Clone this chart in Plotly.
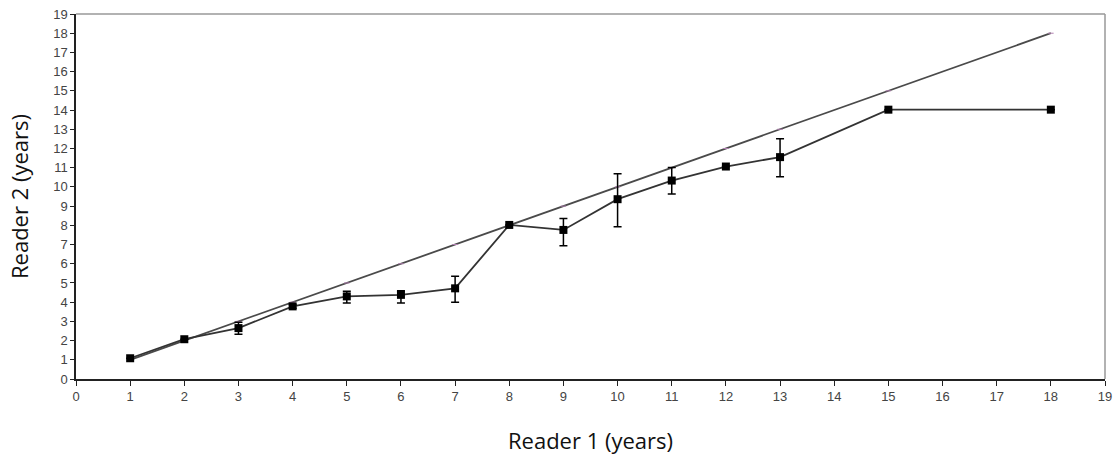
import plotly.graph_objects as go

reader1 = [1, 2, 3, 4, 5, 6, 7, 8, 9, 10, 11, 12, 13, 15, 18]
reader2_mean = [1.08, 2.07, 2.65, 3.78, 4.3, 4.38, 4.72, 8.02, 7.76, 9.36, 10.33, 11.06, 11.55, 14.02, 14.02]
err_plus = [0.0, 0.0, 0.3, 0.1, 0.27, 0.22, 0.63, 0.0, 0.6, 1.33, 0.68, 0.0, 0.95, 0.0, 0.0]
err_minus = [0.0, 0.0, 0.32, 0.1, 0.35, 0.43, 0.72, 0.0, 0.83, 1.43, 0.7, 0.0, 1.02, 0.0, 0.0]
identity_y = [1, 2, 3, 4, 5, 6, 7, 8, 9, 10, 11, 12, 13, 15, 18]

x_ticks = list(range(0, 20))
y_ticks = list(range(0, 20))

fig = go.Figure()

fig.add_trace(go.Scatter(
    x=reader1, y=identity_y, mode="lines+markers",
    line=dict(color="#4a4a4a", width=1.8),
    marker=dict(symbol="line-ew", size=4, color="#b080b0", line=dict(color="#b080b0", width=1)),
    showlegend=False, hoverinfo="skip",
))

fig.add_trace(go.Scatter(
    x=reader1, y=reader2_mean, mode="lines+markers",
    line=dict(color="#333333", width=1.8),
    marker=dict(symbol="square", size=8, color="black"),
    error_y=dict(type="data", symmetric=False, array=err_plus, arrayminus=err_minus,
                 color="black", thickness=1.5, width=4),
    showlegend=False,
))

tick_font = dict(family="Liberation Sans, Arial, sans-serif", size=13, color="#444444")
title_font = dict(family="Open Sans, sans-serif", size=22, color="#111111")

fig.update_layout(
    width=1118, height=456,
    margin=dict(l=76, r=13, t=14, b=77),
    paper_bgcolor="white", plot_bgcolor="white",
    xaxis=dict(
        range=[0, 19], tickvals=x_ticks, ticktext=[str(v) for v in x_ticks],
        showgrid=False, zeroline=False, automargin=False,
        showline=True, linecolor="#222222", linewidth=1.5, mirror=False,
        ticks="outside", ticklen=5, tickcolor="#222222", tickwidth=1,
        tickfont=tick_font,
        title=dict(text="Reader 1 (years)", font=title_font, standoff=30),
    ),
    yaxis=dict(
        range=[0, 19], tickvals=y_ticks, ticktext=[str(v) for v in y_ticks],
        showgrid=False, zeroline=False, automargin=False,
        showline=True, linecolor="#222222", linewidth=1.5, mirror=False,
        ticks="outside", ticklen=4, tickcolor="#222222", tickwidth=1,
        tickfont=tick_font,
        title=dict(text="Reader 2 (years)", font=title_font, standoff=18),
    ),
    shapes=[
        dict(type="line", xref="paper", yref="paper", x0=0, x1=1, y0=1, y1=1,
             line=dict(color="#999999", width=1.5)),
        dict(type="line", xref="paper", yref="paper", x0=1, x1=1, y0=0, y1=1,
             line=dict(color="#999999", width=1.5)),
    ],
)

fig.write_html("out.html", config={"displayModeBar": False},
               post_script="document.body.style.margin='0';")
